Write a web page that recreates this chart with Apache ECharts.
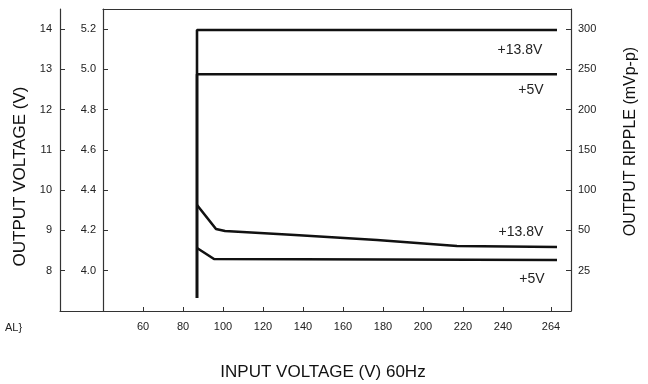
<!DOCTYPE html>
<html>
<head>
<meta charset="utf-8">
<script src="https://cdn.jsdelivr.net/npm/echarts@6/dist/echarts.min.js"></script>
<style>html,body{margin:0;padding:0;background:#fff}#c{width:648px;height:384px}</style>
</head>
<body>
<div id="c"></div>
<script>
// ---- data ----
const xTicks = [60, 80, 100, 120, 140, 160, 180, 200, 220, 240, 264];
const leftTicks = [8, 9, 10, 11, 12, 13, 14];              // +13.8V output scale
const innerTicks = [4.0, 4.2, 4.4, 4.6, 4.8, 5.0, 5.2];    // +5V output scale
const rippleTickValues = [0, 50, 100, 150, 200, 250, 300];
const rippleTickLabels = ['25', '50', '100', '150', '200', '250', '300'];

const out13In = [87, 87, 267];
const out13V  = [7.32, 13.98, 13.98];
const out5In  = [87, 87, 267];
const out5V   = [3.865, 4.976, 4.976];
const rip13In = [87, 96.5, 101, 136, 177, 217, 267];
const rip13V  = [81.6, 51.8, 49.3, 44.4, 38.2, 30.7, 29.5];
const rip5In  = [87, 95.5, 267];
const rip5V   = [28.2, 14.6, 13.3];

const FONT = 'Liberation Sans, Arial, sans-serif';
const INK = '#111';
const AX = '#333';

function pts(xs, ys, label, off) {
  return xs.map((x, i) => {
    if (i === xs.length - 1) {
      return { value: [x, ys[i]], label: { show: true, formatter: label, position: 'inside', offset: off,
        fontFamily: FONT, fontSize: 14, color: '#222' } };
    }
    return [x, ys[i]];
  });
}
function lineSeries(name, yIdx, data) {
  return { name, type: 'line', xAxisIndex: 0, yAxisIndex: yIdx, data,
    showSymbol: true, symbol: 'circle', symbolSize: 0, itemStyle: { color: INK },
    lineStyle: { color: INK, width: 2.6 }, silent: true, animation: false };
}

const chart = echarts.init(document.getElementById('c'), null, { renderer: 'canvas' });
const labelStyle = { fontFamily: FONT, fontSize: 11, color: '#222' };
const axLine = { show: true, onZero: false, lineStyle: { color: AX, width: 1.2 } };

chart.setOption({
  animation: false,
  backgroundColor: '#fff',
  title: { text: 'AL}', left: 0, top: 317, textStyle: { fontFamily: FONT, fontSize: 11, fontWeight: 'normal', color: '#222' } },
  grid: [
    { left: 103, right: 77, top: 9, bottom: 73, containLabel: false, outerBoundsMode: 'none' },
    { left: 60, width: 43, top: 9, bottom: 73, containLabel: false, outerBoundsMode: 'none' }
  ],
  xAxis: [
    { type: 'value', gridIndex: 0, position: 'bottom', min: 40, max: 274,
      axisLine: axLine,
      axisTick: { show: true, inside: true, length: 4, customValues: xTicks, lineStyle: { color: AX } },
      axisLabel: { show: true, customValues: xTicks, margin: 10, ...labelStyle },
      splitLine: { show: false },
      name: 'INPUT VOLTAGE (V) 60Hz', nameLocation: 'middle', nameGap: 53,
      nameTextStyle: { fontFamily: FONT, fontSize: 17, color: '#111', padding: [0, 28, 0, 0] } },
    { type: 'value', gridIndex: 0, position: 'top', min: 40, max: 274,
      axisLine: axLine,
      axisTick: { show: false }, axisLabel: { show: false }, splitLine: { show: false } },
    { type: 'value', gridIndex: 1, position: 'bottom', min: 0, max: 1,
      axisLine: axLine,
      axisTick: { show: false }, axisLabel: { show: false }, splitLine: { show: false } }
  ],
  yAxis: [
    { type: 'value', gridIndex: 0, position: 'left', offset: 43, min: 7, max: 14.5,
      axisLine: axLine,
      axisTick: { show: true, inside: true, length: 5, customValues: leftTicks, lineStyle: { color: AX } },
      axisLabel: { show: true, customValues: leftTicks, margin: 8, ...labelStyle },
      splitLine: { show: false },
      name: 'OUTPUT VOLTAGE (V)', nameLocation: 'middle', nameRotate: 90, nameGap: 30,
      nameTextStyle: { fontFamily: FONT, fontSize: 17, color: '#111', padding: [0, 33, 0, 0] } },
    { type: 'value', gridIndex: 0, position: 'left', offset: 0, min: 3.8, max: 5.3,
      axisLine: axLine,
      axisTick: { show: true, inside: true, length: 5, customValues: innerTicks, lineStyle: { color: AX } },
      axisLabel: { show: true, customValues: innerTicks, margin: 7, formatter: v => v.toFixed(1), ...labelStyle },
      splitLine: { show: false } },
    { type: 'value', gridIndex: 0, position: 'right', min: -50, max: 325,
      axisLine: axLine,
      axisTick: { show: true, inside: true, length: 5, customValues: rippleTickValues, lineStyle: { color: AX } },
      axisLabel: { show: true, customValues: rippleTickValues, margin: 7,
        formatter: v => { const i = rippleTickValues.indexOf(v); return i >= 0 ? rippleTickLabels[i] : ''; }, ...labelStyle },
      splitLine: { show: false },
      name: 'OUTPUT RIPPLE (mVp-p)', nameLocation: 'middle', nameRotate: 90, nameGap: 52,
      nameTextStyle: { fontFamily: FONT, fontSize: 16, color: '#111', padding: [0, 0, 0, 37] } },
    { type: 'value', gridIndex: 1, show: false, min: 0, max: 1 }
  ],
  series: [
    lineSeries('+13.8V output', 0, pts(out13In, out13V, '+13.8V', [-37, 20])),
    lineSeries('+5V output', 1, pts(out5In, out5V, '+5V', [-26, 16])),
    lineSeries('+13.8V ripple', 2, pts(rip13In, rip13V, '+13.8V', [-36, -15])),
    lineSeries('+5V ripple', 2, pts(rip5In, rip5V, '+5V', [-25, 19]))
  ]
});
</script>
</body>
</html>
